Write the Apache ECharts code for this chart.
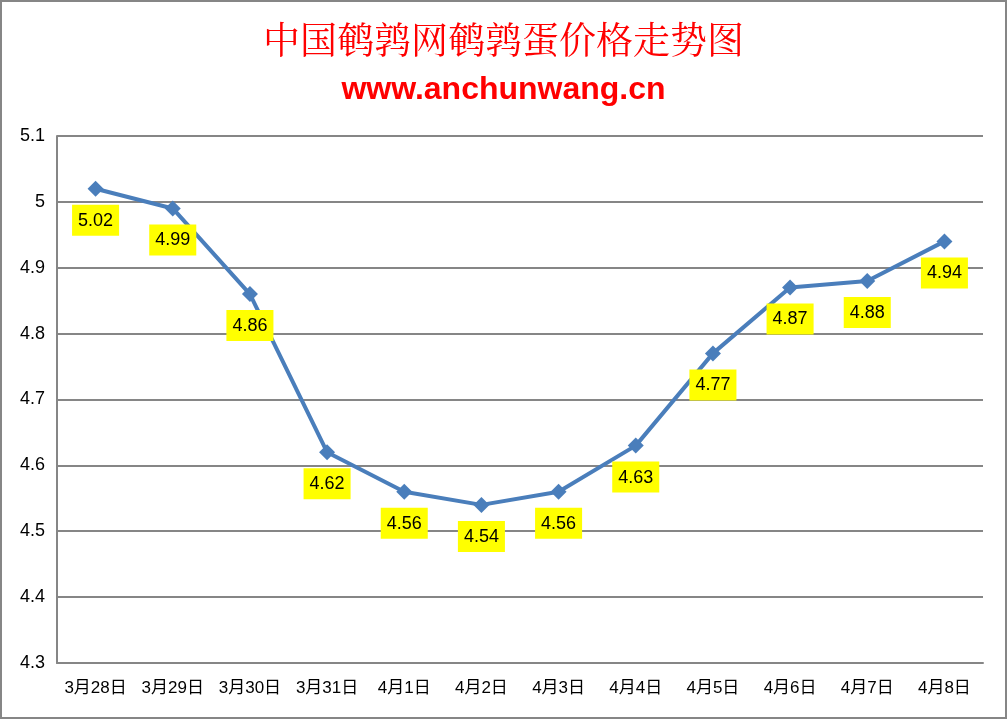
<!DOCTYPE html>
<html>
<head>
<meta charset="UTF-8">
<title>鹌鹑蛋价格走势图</title>
<script src="https://cdn.jsdelivr.net/npm/echarts@6/dist/echarts.min.js"></script>
<style>
html, body { margin: 0; padding: 0; background: #fff; }
#container { width: 1007px; height: 719px; box-sizing: border-box; border: 2px solid #868686; }
</style>
</head>
<body>
<div id="container"></div>
<script type="text/javascript">
// 日期
var days = ['3月28日', '3月29日', '3月30日', '3月31日', '4月1日', '4月2日',
	'4月3日', '4月4日', '4月5日', '4月6日', '4月7日', '4月8日'];
// 价格
var prices = [5.02, 4.99, 4.86, 4.62, 4.56, 4.54, 4.56, 4.63, 4.77, 4.87, 4.88, 4.94];
var yTicks = [4.3, 4.4, 4.5, 4.6, 4.7, 4.8, 4.9, 5, 5.1];

var myChart = echarts.init(document.getElementById('container'));

var option = {
	animation: false,
	title: [{
		text: '中国鹌鹑网鹌鹑蛋价格走势图',
		left: 'center',
		top: 14,
		textStyle: {
			color: '#ff0000',
			fontSize: 37,
			fontWeight: 'normal',
			fontFamily: '"Noto Serif CJK SC", "Noto Sans CJK SC", serif'
		}
	}, {
		text: 'www.anchunwang.cn',
		left: 'center',
		top: 67,
		textStyle: {
			color: '#ff0000',
			fontSize: 32,
			fontWeight: 'bold',
			fontFamily: '"Liberation Sans", Arial, sans-serif'
		}
	}],
	grid: {
		left: 55,
		right: 22,
		top: 134,
		bottom: 54
	},
	xAxis: {
		type: 'category',
		data: days,
		boundaryGap: true,
		axisLine: { lineStyle: { color: '#868686', width: 2 } },
		axisTick: { show: false },
		axisLabel: {
			interval: 0,
			hideOverlap: false,
			color: '#000',
			fontSize: 17,
			margin: 17,
			fontFamily: '"Liberation Sans", "Noto Sans CJK SC", sans-serif'
		}
	},
	yAxis: {
		type: 'value',
		min: 4.3,
		max: 5.1,
		interval: 0.1,
		axisLine: { show: true, lineStyle: { color: '#868686', width: 2 } },
		axisTick: { show: false },
		axisLabel: {
			color: '#000',
			fontSize: 18,
			margin: 12,
			fontFamily: '"Liberation Sans", sans-serif',
			formatter: function (v) {
				var t = Math.round(v * 10) / 10;
				return yTicks.indexOf(t) >= 0 ? String(t) : '';
			}
		},
		splitLine: { lineStyle: { color: '#868686', width: 2 } }
	},
	series: [{
		type: 'line',
		data: prices,
		symbol: 'diamond',
		symbolSize: 16,
		itemStyle: { color: '#4a7ebb' },
		lineStyle: { color: '#4a7ebb', width: 4 },
		label: {
			show: true,
			position: 'bottom',
			distance: 8,
			color: '#000',
			fontSize: 18,
			fontFamily: '"Liberation Sans", sans-serif',
			backgroundColor: '#ffff00',
			padding: [7, 6, 6, 6],
			formatter: function (p) { return p.value.toFixed(2); }
		}
	}]
};

myChart.setOption(option);
</script>
</body>
</html>
